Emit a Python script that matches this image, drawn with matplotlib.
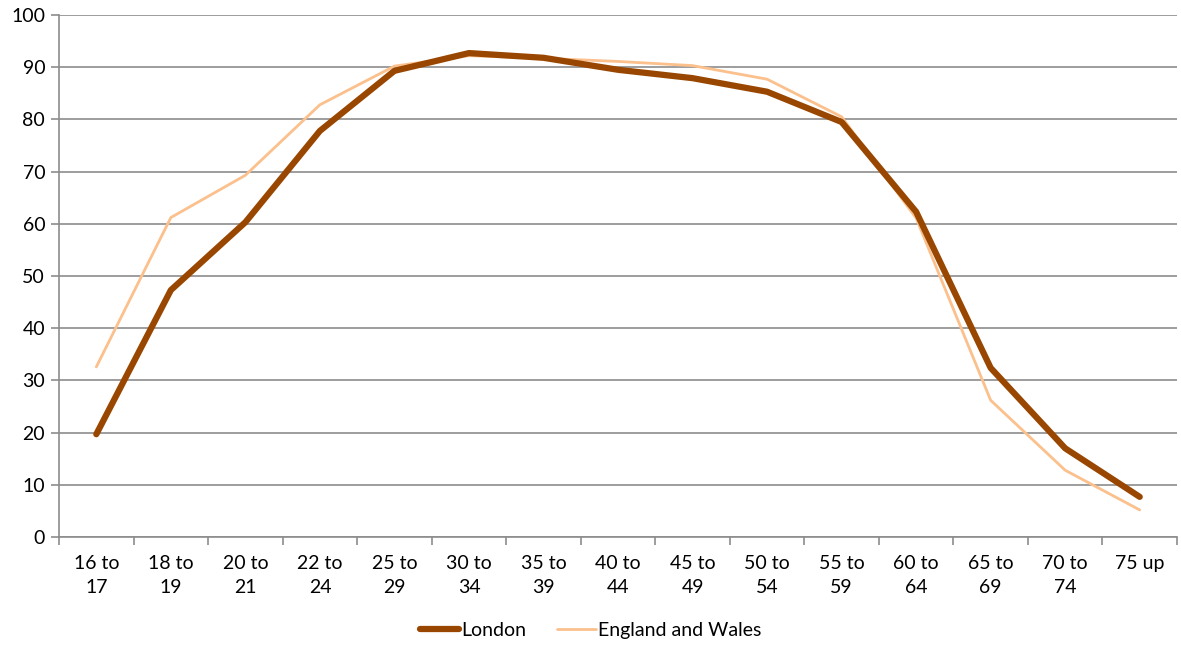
import matplotlib
matplotlib.use("Agg")
from matplotlib import pyplot as plt

# age bands and employment rate values
age_bands = ["16 to\n17", "18 to\n19", "20 to\n21", "22 to\n24", "25 to\n29", "30 to\n34",
             "35 to\n39", "40 to\n44", "45 to\n49", "50 to\n54", "55 to\n59", "60 to\n64",
             "65 to\n69", "70 to\n74", "75 up"]
london = [19.7, 47.3, 60.3, 77.8, 89.3, 92.7, 91.8, 89.5, 87.9, 85.3, 79.5, 62.3, 32.4, 17.0, 7.7]
england_wales = [32.6, 61.2, 69.3, 82.8, 90.2, 92.2, 91.7, 91.1, 90.3, 87.7, 80.5, 61.1, 26.2, 12.8, 5.2]
y_ticks = list(range(0, 101, 10))

plt.rcParams["font.family"] = ["Lato", "DejaVu Sans"]

fig = plt.figure(figsize=(11.81, 6.51), dpi=100)
ax = fig.add_axes([0.05, 0.175, 0.9466, 0.802])

x = list(range(len(age_bands)))
ax.plot(x, london, color="#994700", linewidth=4.5, solid_capstyle="round",
        solid_joinstyle="round", label="London", zorder=3)
ax.plot(x, england_wales, color="#FBC08C", linewidth=2, solid_capstyle="round",
        label="England and Wales", zorder=2)

ax.set_xlim(-0.5, len(age_bands) - 0.5)
ax.set_ylim(0, 100)
ax.set_yticks(y_ticks)
ax.tick_params(axis="y", labelsize=14, color="#8c8c8c", length=6, width=1.2, pad=4)
ax.yaxis.grid(True, color="#8c8c8c", linewidth=1.2)
ax.set_axisbelow(True)

# category labels centred, tick marks on the boundaries
ax.set_xticks(x)
ax.set_xticklabels(age_bands, fontsize=14, linespacing=1.5)
ax.tick_params(axis="x", length=0, pad=13)
ax.set_xticks([i - 0.5 for i in range(len(age_bands) + 1)], minor=True)
ax.tick_params(axis="x", which="minor", length=6, width=1.2, color="#8c8c8c")

for side in ["top", "right"]:
    ax.spines[side].set_visible(False)
for side in ["left", "bottom"]:
    ax.spines[side].set_color("#8c8c8c")
    ax.spines[side].set_linewidth(1.2)

fig.legend(loc="lower center", bbox_to_anchor=(0.5, -0.008), ncol=2, frameon=False,
           fontsize=14, handlelength=2.0, handletextpad=0.1, columnspacing=1.6)

fig.savefig("out.png", dpi=100)
